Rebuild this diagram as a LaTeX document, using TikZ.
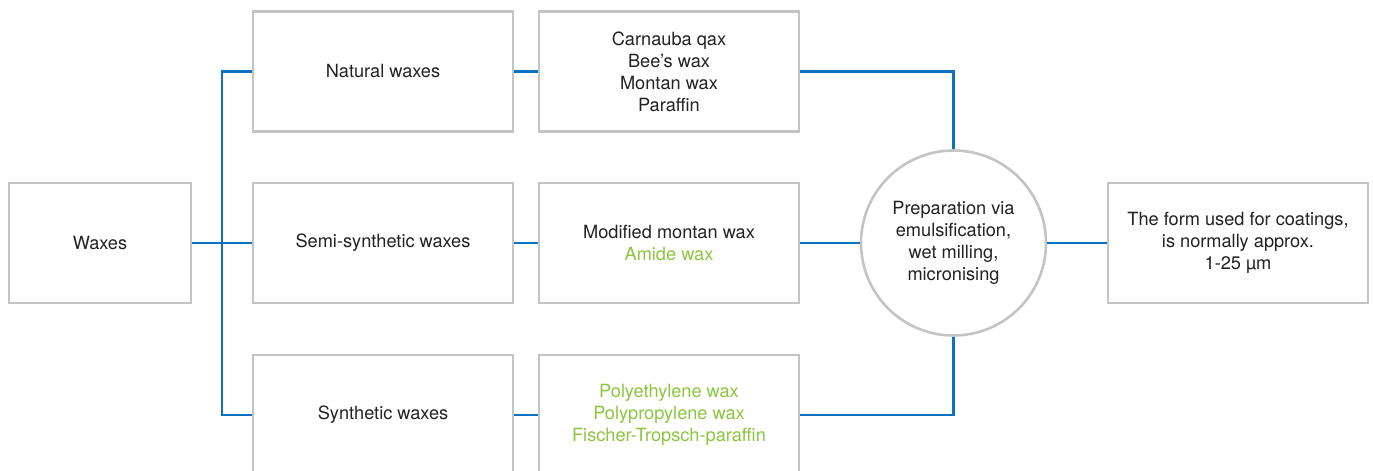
\documentclass[tikz,border=0pt]{standalone}
\usepackage{fontspec}
\setmainfont{TeX Gyre Heros}
\definecolor{boxgray}{HTML}{C4C4C4}
\definecolor{lineblue}{HTML}{0A72C0}
\definecolor{wgreen}{HTML}{8CC63F}
\definecolor{txt}{HTML}{222222}
\begin{document}
\begin{tikzpicture}[x=1pt,y=-1pt,
  box/.style={draw=boxgray,line width=2.6pt,rectangle,minimum height=120pt,
    align=center,text=txt,font=\fontsize{18.2}{22}\selectfont,inner sep=0pt},
  wbox/.style={box,minimum width=260pt},
  conn/.style={draw=lineblue,line width=2.6pt}]
\useasboundingbox (0,0) rectangle (1373,471);
\fill[white] (0,0) rectangle (1373,471);
\node[box,minimum width=182pt] (waxes) at (100,243) {Waxes};
\node[wbox] (nat) at (383,71.5) {Natural waxes};
\node[wbox] (semi) at (383,243) {Semi-synthetic waxes};
\node[wbox] (syn) at (383,415) {Synthetic waxes};
\node[wbox] (natl) at (669,71.5) {Carnauba qax\\Bee’s wax\\Montan wax\\Paraffin};
\node[wbox] (semil) at (669,243) {Modified montan wax\\\textcolor{wgreen}{Amide wax}};
\node[wbox,text=wgreen] (synl) at (669,415) {Polyethylene wax\\Polypropylene wax\\Fischer-Tropsch-paraffin};
\node[box,circle,minimum size=185pt] (prep) at (953.5,243) {Preparation via\\emulsification,\\wet milling,\\micronising};
\node[box,minimum width=260pt] (final) at (1238,243) {The form used for coatings,\\is normally approx.\\1-25 µm};
\coordinate (j) at (222,243);
\draw[conn] (waxes.east) -- (semi.west);
\draw[conn] (nat.west) -| (j) |- (syn.west);
\draw[conn] (nat.east) -- (natl.west);
\draw[conn] (semi.east) -- (semil.west);
\draw[conn] (syn.east) -- (synl.west);
\draw[conn] (natl.east) -| (prep.north);
\draw[conn] (synl.east) -| (prep.south);
\draw[conn] (semil.east) -- (prep.west);
\draw[conn] (prep.east) -- (final.west);
\end{tikzpicture}
\end{document}
